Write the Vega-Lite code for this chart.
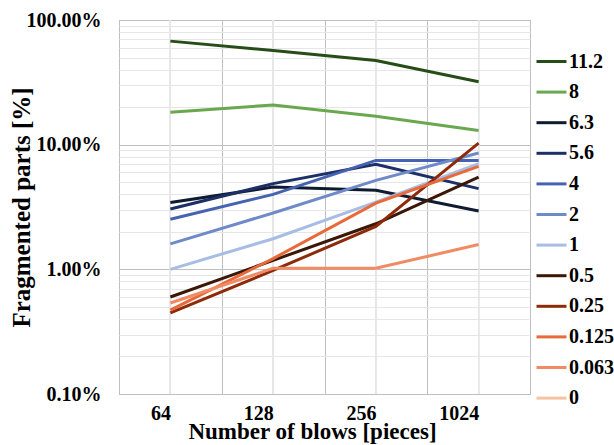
{
  "$schema": "https://vega.github.io/schema/vega-lite/v6.json",
  "width": 411,
  "height": 374,
  "autosize": {"type": "none"},
  "padding": {"left": 119, "top": 20, "right": 84, "bottom": 51},
  "config": {
    "font": "Liberation Serif",
    "axis": {"labelFont": "Liberation Serif", "titleFont": "Liberation Serif"},
    "legend": {"labelFont": "Liberation Serif"},
    "view": {"stroke": "#bfbfbf", "strokeWidth": 1}
  },
  "data": {
    "values": [
      {"blows": "64", "size": "11.2", "pct": 67.7},
      {"blows": "128", "size": "11.2", "pct": 57},
      {"blows": "256", "size": "11.2", "pct": 47.4},
      {"blows": "1024", "size": "11.2", "pct": 32},
      {"blows": "64", "size": "8", "pct": 18.2},
      {"blows": "128", "size": "8", "pct": 20.8},
      {"blows": "256", "size": "8", "pct": 16.9},
      {"blows": "1024", "size": "8", "pct": 13.0},
      {"blows": "64", "size": "6.3", "pct": 3.44},
      {"blows": "128", "size": "6.3", "pct": 4.57},
      {"blows": "256", "size": "6.3", "pct": 4.3},
      {"blows": "1024", "size": "6.3", "pct": 2.94},
      {"blows": "64", "size": "5.6", "pct": 3.05},
      {"blows": "128", "size": "5.6", "pct": 4.87},
      {"blows": "256", "size": "5.6", "pct": 6.95},
      {"blows": "1024", "size": "5.6", "pct": 4.44},
      {"blows": "64", "size": "4", "pct": 2.52},
      {"blows": "128", "size": "4", "pct": 3.99},
      {"blows": "256", "size": "4", "pct": 7.48},
      {"blows": "1024", "size": "4", "pct": 7.48},
      {"blows": "64", "size": "2", "pct": 1.60},
      {"blows": "128", "size": "2", "pct": 2.83},
      {"blows": "256", "size": "2", "pct": 5.17},
      {"blows": "1024", "size": "2", "pct": 8.57},
      {"blows": "64", "size": "1", "pct": 1.0},
      {"blows": "128", "size": "1", "pct": 1.76},
      {"blows": "256", "size": "1", "pct": 3.46},
      {"blows": "1024", "size": "1", "pct": 7.04},
      {"blows": "64", "size": "0.5", "pct": 0.60},
      {"blows": "128", "size": "0.5", "pct": 1.18},
      {"blows": "256", "size": "0.5", "pct": 2.32},
      {"blows": "1024", "size": "0.5", "pct": 5.5},
      {"blows": "64", "size": "0.25", "pct": 0.447},
      {"blows": "128", "size": "0.25", "pct": 0.98},
      {"blows": "256", "size": "0.25", "pct": 2.21},
      {"blows": "1024", "size": "0.25", "pct": 10.3},
      {"blows": "64", "size": "0.125", "pct": 0.47},
      {"blows": "128", "size": "0.125", "pct": 1.22},
      {"blows": "256", "size": "0.125", "pct": 3.4},
      {"blows": "1024", "size": "0.125", "pct": 6.7},
      {"blows": "64", "size": "0.063", "pct": 0.537},
      {"blows": "128", "size": "0.063", "pct": 1.02},
      {"blows": "256", "size": "0.063", "pct": 1.02},
      {"blows": "1024", "size": "0.063", "pct": 1.58}
    ]
  },
  "layer": [
    {
      "mark": {"type": "rule", "color": "#e6e6e6", "strokeWidth": 1},
      "encoding": {
        "x": {"field": "blows", "type": "ordinal", "bandPosition": 0.5}
      }
    },
    {
      "mark": {"type": "line", "strokeWidth": 3},
      "encoding": {
        "x": {
          "field": "blows",
          "type": "ordinal",
          "bandPosition": 0.5,
          "sort": ["64", "128", "256", "1024"],
          "scale": {"type": "band", "domain": ["64", "128", "256", "1024"], "paddingInner": 0, "paddingOuter": 0},
          "axis": {
            "tickBand": "extent",
            "grid": true,
            "gridColor": "#bfbfbf",
            "ticks": false,
            "domain": false,
            "labelAngle": 0,
            "labelFontSize": 20,
            "labelFontWeight": "bold",
            "labelColor": "#000000",
            "labelPadding": 19,
            "title": "Number of blows [pieces]",
            "titleFontSize": 23,
            "titleFontWeight": "bold",
            "titleColor": "#000000",
            "titlePadding": -3,
            "titleX": 193
          }
        },
        "y": {
          "field": "pct",
          "type": "quantitative",
          "scale": {"type": "log", "domain": [0.1, 100]},
          "axis": {
            "values": [0.1, 0.2, 0.3, 0.4, 0.5, 0.6, 0.7, 0.8, 0.9, 1, 2, 3, 4, 5, 6, 7, 8, 9, 10, 20, 30, 40, 50, 60, 70, 80, 90, 100],
            "grid": true,
            "gridColor": {
              "condition": {"test": "abs(log(datum.value)/LN10 - round(log(datum.value)/LN10)) < 0.001", "value": "#bfbfbf"},
              "value": "#e6e6e6"
            },
            "ticks": false,
            "domain": false,
            "labelOverlap": false,
            "labelExpr": "abs(log(datum.value)/LN10 - round(log(datum.value)/LN10)) < 0.001 ? format(datum.value/100, '.2%') : ''",
            "labelFontSize": 20,
            "labelFontWeight": "bold",
            "labelColor": "#000000",
            "labelPadding": 18,
            "title": "Fragmented parts [%]",
            "titleFontSize": 25,
            "titleFontWeight": "bold",
            "titleColor": "#000000",
            "titlePadding": -8
          }
        },
        "color": {
          "field": "size",
          "type": "nominal",
          "scale": {
            "domain": ["11.2", "8", "6.3", "5.6", "4", "2", "1", "0.5", "0.25", "0.125", "0.063", "0"],
            "range": ["#264d17", "#6aa84f", "#0f1b33", "#1c2f66", "#4563b0", "#6f8ac8", "#a8bde3", "#3b1708", "#8b2b0a", "#e8693a", "#f08b63", "#f7c2a0"]
          },
          "legend": {
            "orient": "none",
            "legendX": 416,
            "legendY": 25,
            "title": null,
            "symbolType": "stroke",
            "symbolSize": 900,
            "symbolStrokeWidth": 3,
            "labelFont": "Liberation Serif",
            "labelFontSize": 20,
            "labelFontWeight": "bold",
            "labelColor": "#000000",
            "labelLimit": 200,
            "labelOffset": 1,
            "rowPadding": 3.6,
            "padding": 0
          }
        }
      }
    }
  ]
}
